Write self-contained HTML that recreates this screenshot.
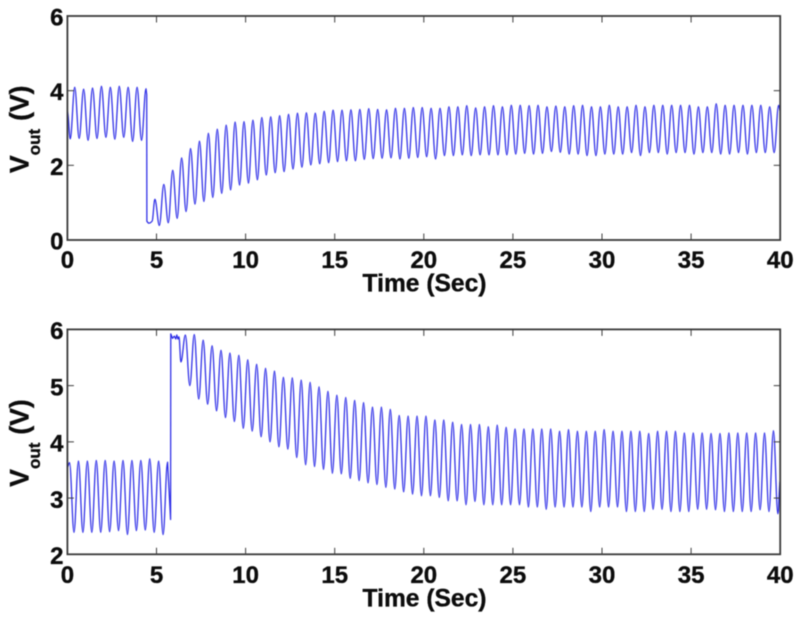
<!DOCTYPE html>
<html lang="en">
<head>
<meta charset="utf-8">
<title>Vout over time</title>
<style>
html,body{margin:0;padding:0;background:#fff;}
#chart{display:block;width:800px;height:618px;filter:blur(0.4px);}
text{font-family:"Liberation Sans",Arial,sans-serif;font-weight:bold;fill:#0c0c0c;stroke:#0c0c0c;stroke-width:0.35px;}
</style>
</head>
<body>
<svg id="chart" xmlns="http://www.w3.org/2000/svg" width="800" height="618" viewBox="0 0 800 618"></svg>
<script>
// Shared x axis
const xTicks = [0, 5, 10, 15, 20, 25, 30, 35, 40];
const xMax = 40;
const halfCycle = 0.25;

// Top panel
const topYTicks = [0, 2, 4, 6];
const topStart = [0, 3.45];
const topBeforePeaks = [4.09, 4.04, 4.07, 4.12, 4.09, 4.12, 4.09, 4.09, 4.05];
const topBeforeTroughs = [2.71, 2.72, 2.67, 2.72, 2.75, 2.70, 2.75, 2.64, 2.67];
const topEventTimes = [4.45, 4.46, 4.55, 4.65, 4.75];
const topEventValues = [3.90, 0.50, 0.45, 0.46, 0.50];
const topAfterPeaks = [1.09,1.49,1.87,2.20,2.45,2.65,2.86,2.97,3.08,3.16,3.17,3.21,3.28,3.30,3.33,3.37,3.40,3.41,3.40,3.45,3.48,3.48,3.49,3.50,3.52,3.50,3.49,3.53,3.53,3.55,3.55,3.53,3.53,3.57,3.57,3.60,3.54,3.57,3.60,3.57,3.61,3.61,3.60,3.61,3.57,3.59,3.57,3.60,3.61,3.57,3.57,3.61,3.57,3.57,3.61,3.57,3.61,3.61,3.61,3.61,3.61,3.57,3.57,3.65,3.61,3.61,3.61,3.61,3.61,3.57,3.61];
const topAfterTroughs = [0.39,0.46,0.58,0.76,0.96,1.03,1.14,1.25,1.34,1.47,1.52,1.61,1.74,1.80,1.83,1.90,1.95,2.01,2.04,2.07,2.10,2.12,2.12,2.16,2.18,2.19,2.20,2.17,2.19,2.21,2.23,2.17,2.26,2.26,2.28,2.26,2.28,2.28,2.28,2.28,2.30,2.32,2.30,2.32,2.37,2.35,2.30,2.30,2.26,2.26,2.30,2.30,2.30,2.34,2.26,2.34,2.34,2.30,2.34,2.34,2.30,2.34,2.34,2.30,2.30,2.34,2.30,2.34,2.34,2.34];
const topEnd = [40, 3.45];

// Bottom panel
const bottomYTicks = [2, 3, 4, 5, 6];
const bottomStart = [0, 3.55];
const bottomBeforePeaks = [3.63,3.66,3.66,3.67,3.67,3.66,3.67,3.67,3.67,3.70,3.66,3.64];
const bottomBeforeTroughs = [2.39,2.39,2.39,2.39,2.40,2.42,2.35,2.42,2.43,2.39,2.35];
const bottomEventTimes = [5.79, 5.80, 5.90, 6.00, 6.08, 6.14, 6.20, 6.26];
const bottomEventValues = [2.62, 5.92, 5.84, 5.88, 5.83, 5.90, 5.83, 5.87];
const bottomAfterPeaks = [5.90,5.91,5.81,5.71,5.63,5.58,5.54,5.46,5.38,5.31,5.26,5.15,5.14,5.10,5.06,4.98,4.90,4.83,4.79,4.74,4.70,4.62,4.62,4.58,4.47,4.46,4.46,4.46,4.39,4.39,4.35,4.31,4.31,4.31,4.27,4.30,4.26,4.23,4.23,4.23,4.23,4.23,4.19,4.22,4.19,4.19,4.19,4.22,4.19,4.19,4.19,4.19,4.15,4.19,4.19,4.19,4.16,4.16,4.16,4.15,4.15,4.16,4.16,4.16,4.16,4.16,4.20];
const bottomAfterTroughs = [5.42,5.00,4.76,4.67,4.55,4.43,4.36,4.24,4.19,4.09,4.00,3.91,3.87,3.72,3.59,3.56,3.51,3.44,3.43,3.35,3.31,3.27,3.24,3.19,3.16,3.11,3.07,3.04,3.04,3.01,2.95,2.95,2.88,2.94,2.88,2.88,2.88,2.88,2.88,2.84,2.84,2.80,2.84,2.84,2.84,2.84,2.76,2.84,2.84,2.84,2.76,2.76,2.76,2.80,2.80,2.76,2.76,2.76,2.80,2.80,2.79,2.76,2.76,2.76,2.76,2.79,2.76,2.72];
const bottomEnd = [40, 3.32];

const NS = 'http://www.w3.org/2000/svg';
const svg = document.getElementById('chart');
const plotLeft = 67.4, plotRight = 780.2;

function node(tag, attrs, parent) {
  const el = document.createElementNS(NS, tag);
  for (const k in attrs) el.setAttribute(k, attrs[k]);
  parent.appendChild(el);
  return el;
}

// Merge two extreme lists into one alternating run, spaced by half a cycle.
function alternate(firstList, secondList, firstTime) {
  const out = [];
  const n = firstList.length + secondList.length;
  for (let i = 0; i < n; i++) {
    const list = i % 2 === 0 ? firstList : secondList;
    out.push([firstTime + i * halfCycle, list[Math.floor(i / 2)]]);
  }
  return out;
}

function buildPath(parts, sx, sy) {
  let d = '';
  let prev = null;
  parts.forEach(function (part) {
    part.points.forEach(function (p) {
      const x = sx(p[0]), y = sy(p[1]);
      if (!prev) {
        d += 'M' + x.toFixed(2) + ' ' + y.toFixed(2);
      } else if (part.smooth) {
        const dx = (x - prev[0]) * 0.36;
        d += 'C' + (prev[0] + dx).toFixed(2) + ' ' + prev[1].toFixed(2) + ' ' + (x - dx).toFixed(2) + ' ' + y.toFixed(2) + ' ' + x.toFixed(2) + ' ' + y.toFixed(2);
      } else {
        d += 'L' + x.toFixed(2) + ' ' + y.toFixed(2);
      }
      prev = [x, y];
    });
  });
  return d;
}

function drawPanel(cfg) {
  const group = node('g', {}, svg);
  
  

  const sx = function (t) { return plotLeft + (t / xMax) * (plotRight - plotLeft); };
  const sy = function (v) { return cfg.yBottom - (v - cfg.yMin) / (cfg.yMax - cfg.yMin) * (cfg.yBottom - cfg.yTop); };

  const series = node('path', { d: buildPath(cfg.parts, sx, sy), fill: 'none', stroke: '#2a2ae6', 'stroke-width': 1.25, 'stroke-linejoin': 'round' }, group);
  
  

  const frame = node('rect', { x: plotLeft, y: cfg.yTop, width: plotRight - plotLeft, height: cfg.yBottom - cfg.yTop, fill: 'none', stroke: '#3a3a3a', 'stroke-width': 1.8 }, group);
  
  

  xTicks.forEach(function (t) {
    const x = sx(t);
    if (t > 0 && t < xMax) {
      const tickB = node('line', { x1: x, x2: x, y1: cfg.yBottom, y2: cfg.yBottom - 6.5, stroke: '#3c3c3c', 'stroke-width': 1 }, group);
      
      
      const tickT = node('line', { x1: x, x2: x, y1: cfg.yTop, y2: cfg.yTop + 6.5, stroke: '#3c3c3c', 'stroke-width': 1 }, group);
      
      
    }
    const label = node('text', { x: x, y: cfg.xLabelY, 'font-size': 24, 'text-anchor': 'middle' }, group);
    label.textContent = String(t);
    
    
  });

  cfg.yTicks.forEach(function (v) {
    const y = sy(v);
    if (v > cfg.yMin && v < cfg.yMax) {
      const tickL = node('line', { x1: plotLeft, x2: plotLeft + 6.5, y1: y, y2: y, stroke: '#3c3c3c', 'stroke-width': 1 }, group);
      
      
      const tickR = node('line', { x1: plotRight, x2: plotRight - 6.5, y1: y, y2: y, stroke: '#3c3c3c', 'stroke-width': 1 }, group);
      
      
    }
    const label = node('text', { x: 63.5, y: y + cfg.yLabelOffset, 'font-size': 24, 'text-anchor': 'end' }, group);
    label.textContent = String(v);
    
    
  });

  const xTitle = node('text', { x: 424.5, y: cfg.xTitleY, 'font-size': 24.6, 'text-anchor': 'middle' }, group);
  xTitle.textContent = 'Time (Sec)';
  
  

  const yTitle = node('text', { x: 0, y: 0, 'font-size': 26.5, transform: 'translate(28.5 ' + cfg.yTitleStart + ') rotate(-90)' }, group);
  
  
  node('tspan', {}, yTitle).textContent = 'V';
  node('tspan', { dy: 11.5, 'font-size': 17 }, yTitle).textContent = 'out';
  node('tspan', { dy: -11.5, dx: 8 }, yTitle).textContent = '(V)';
}

drawPanel({
  name: 'top',
  yMin: 0, yMax: 6, yTop: 16, yBottom: 240,
  yTicks: topYTicks,
  xLabelY: 268, xTitleY: 291.7, yLabelOffset: 9.5, yTitleStart: 173,
  parts: [
    { smooth: false, points: [topStart] },
    { smooth: true, points: alternate(topBeforeTroughs, topBeforePeaks, 0.16) },
    { smooth: false, points: topEventTimes.map(function (t, i) { return [t, topEventValues[i]]; }) },
    { smooth: true, points: alternate(topAfterPeaks, topAfterTroughs, 4.91) },
    { smooth: true, points: [topEnd] }
  ]
});

drawPanel({
  name: 'bottom',
  yMin: 2, yMax: 6, yTop: 329.4, yBottom: 554.3,
  yTicks: bottomYTicks,
  xLabelY: 583, xTitleY: 606.7, yLabelOffset: 9.7, yTitleStart: 486.7,
  parts: [
    { smooth: false, points: [bottomStart] },
    { smooth: true, points: alternate(bottomBeforePeaks, bottomBeforeTroughs, 0.12) },
    { smooth: false, points: bottomEventTimes.map(function (t, i) { return [t, bottomEventValues[i]]; }) },
    { smooth: true, points: alternate(bottomAfterTroughs, bottomAfterPeaks, 6.37) },
    { smooth: true, points: [bottomEnd] }
  ]
});
</script>
</body>
</html>
